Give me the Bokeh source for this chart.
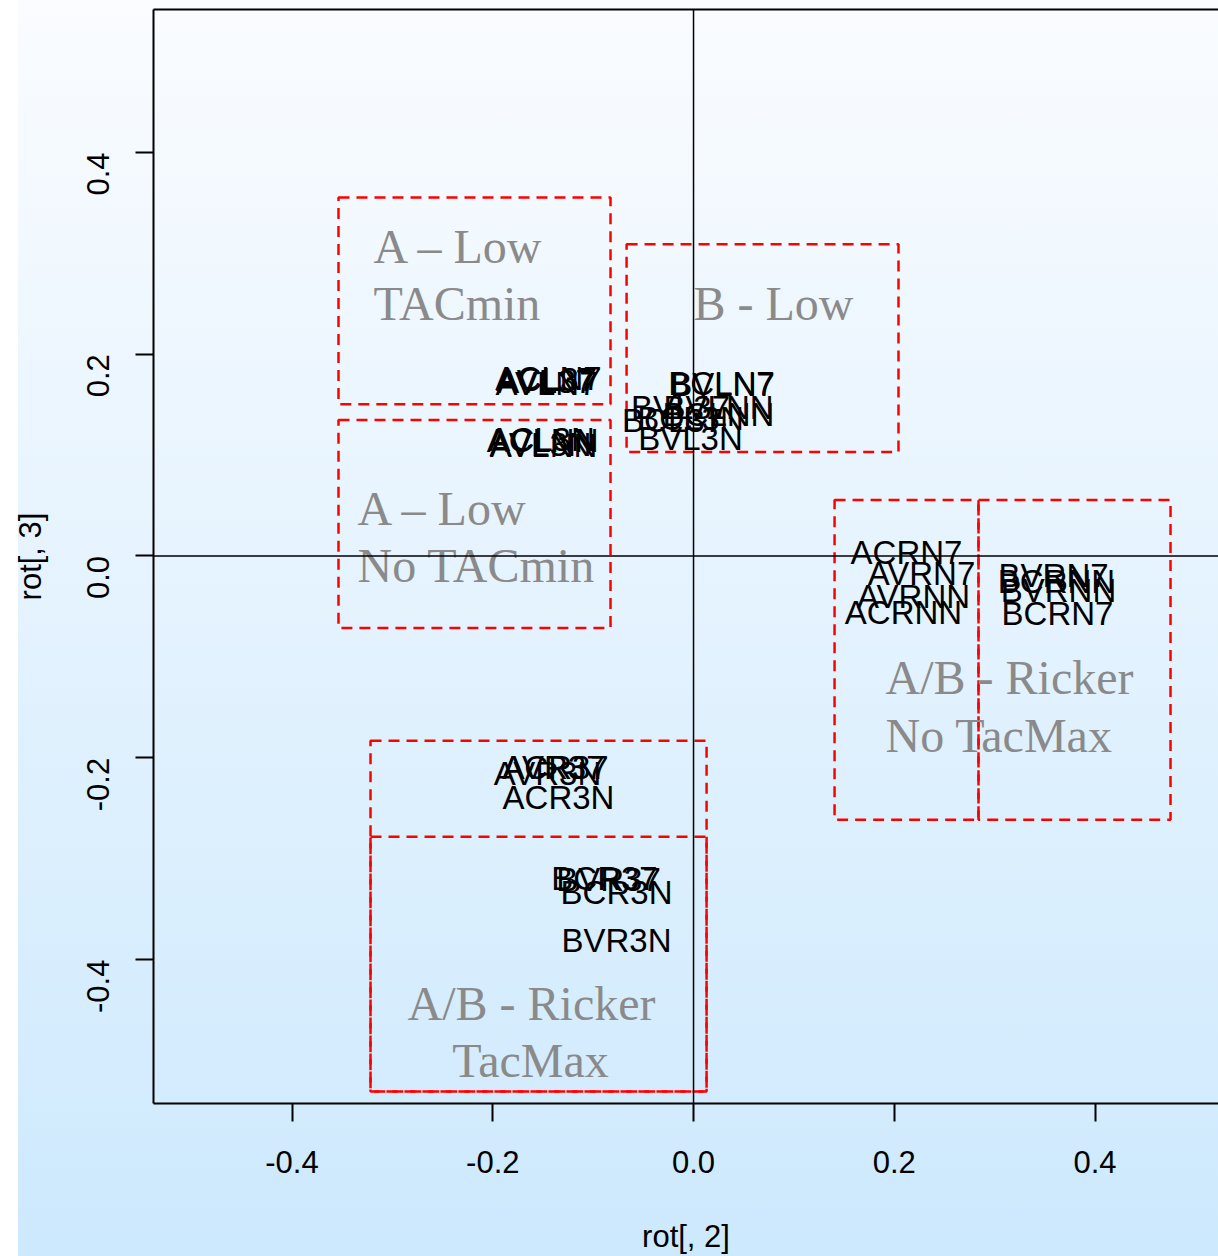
import math
from bokeh.plotting import figure
from bokeh.models import (Span, FixedTicker, LinearAxis, Range1d, ColumnDataSource,
                          PrintfTickFormatter)
from bokeh.core.properties import value
from bokeh.embed import file_html
from bokeh.resources import INLINE

# Scenario labels and their loadings on the 2nd and 3rd rotated components
labels = ["ACL37", "AVL37", "ACLN7", "AVLN7",
          "ACL3N", "ACLNN", "AVL3N", "AVLNN",
          "BCLN7", "BVLN7", "BVL37", "BVLNN", "BCL37", "BCLNN", "BCL3N", "BVL3N",
          "ACRN7", "AVRN7", "AVRNN", "ACRNN",
          "BVRN7", "BCRNN", "BVRNN", "BCRN7",
          "ACR37", "AVR37", "AVR3N", "ACR3N",
          "BCR37", "BVR37", "BCR3N", "BVR3N"]
rot2 = [-0.1465, -0.1474, -0.1445, -0.1465,
        -0.1514, -0.1504, -0.1524, -0.1494,
        0.0279, 0.0289, -0.0130, 0.0249, -0.0209, 0.0249, -0.0030, -0.0030,
        0.2122, 0.2271, 0.2192, 0.2092,
        0.3587, 0.3616, 0.3636, 0.3626,
        -0.1375, -0.1395, -0.1455, -0.1345,
        -0.0887, -0.0847, -0.0767, -0.0767]
rot3 = [0.1752, 0.1733, 0.1762, 0.1713,
        0.1158, 0.1149, 0.1109, 0.1099,
        0.1713, 0.1703, 0.1475, 0.1475, 0.1347, 0.1406, 0.1366, 0.1168,
        0.0030, -0.0178, -0.0406, -0.0564,
        -0.0198, -0.0257, -0.0337, -0.0574,
        -0.2099, -0.2099, -0.2158, -0.2396,
        -0.3198, -0.3208, -0.3337, -0.3812]

# Group outlines (data units)
box_left = [-0.3537, -0.0667, -0.3537, 0.1405, 0.2839, -0.3218, -0.3218]
box_right = [-0.0827, 0.2042, -0.0827, 0.2839, 0.4752, 0.0130, 0.0130]
box_bottom = [0.1505, 0.1030, -0.0713, -0.2614, -0.2614, -0.5307, -0.5307]
box_top = [0.3554, 0.3089, 0.1347, 0.0554, 0.0554, -0.1832, -0.2782]

# Group notes, one entry per text line
note_text = ["A \u2013 Low", "TACmin", "B - Low", "A \u2013 Low", "No TACmin",
             "A/B - Ricker", "No TacMax", "A/B - Ricker", "TacMax"]
note_x = [-0.3188, -0.3188, 0.0, -0.3347, -0.3347, 0.1913, 0.1913, -0.2849, -0.1624]
note_y = [0.3069, 0.2505, 0.2505, 0.0475, -0.0099, -0.1208, -0.1783, -0.4436, -0.5000]
note_align = ["left", "left", "left", "left", "left", "left", "left", "left", "center"]

x_lim = (-0.538, 0.523)
y_lim = (-0.5426, 0.5416)
ticks = [-0.4, -0.2, 0.0, 0.2, 0.4]

p = figure(width=1218, height=1256, output_backend="svg", toolbar_location=None,
           x_range=Range1d(*x_lim), y_range=Range1d(*y_lim),
           min_border_left=153, min_border_right=0, min_border_top=9,
           min_border_bottom=152, x_axis_location=None, y_axis_location=None)
p.grid.visible = False
p.outline_line_color = None
p.background_fill_alpha = 0
p.border_fill_alpha = 0
p.styles = {"background": "linear-gradient(to right, #ffffff 18px, rgba(255,255,255,0) 18px), "
                          "linear-gradient(to bottom, #fafcff 0%, #cde9fd 100%)"}

FONT = value("Liberation Sans")


def style_axis(ax):
    ax.axis_line_width = 2
    ax.axis_line_color = "black"
    ax.major_tick_line_width = 2
    ax.major_tick_out = 18
    ax.major_tick_in = 0
    ax.minor_tick_line_color = None
    ax.major_label_text_font = "Liberation Sans"
    ax.major_label_text_font_size = "31px"
    ax.major_label_text_color = "black"
    ax.axis_label_text_font = "Liberation Sans"
    ax.axis_label_text_font_size = "31px"
    ax.axis_label_text_font_style = "normal"
    ax.axis_label_text_color = "black"


xaxis = LinearAxis(ticker=FixedTicker(ticks=ticks), formatter=PrintfTickFormatter(format="%.1f"),
                   axis_label="rot[, 2]")
style_axis(xaxis)
xaxis.major_label_standoff = 29
xaxis.axis_label_standoff = 43
p.add_layout(xaxis, "below")

yaxis = LinearAxis(ticker=FixedTicker(ticks=ticks), formatter=PrintfTickFormatter(format="%.1f"),
                   axis_label="rot[, 3]")
style_axis(yaxis)
yaxis.major_label_orientation = math.pi / 2
yaxis.major_label_standoff = 37
yaxis.axis_label_standoff = 26
p.add_layout(yaxis, "left")

top = LinearAxis(ticker=FixedTicker(ticks=[]))
top.axis_line_width = 2
top.major_tick_line_color = None
top.minor_tick_line_color = None
top.major_label_text_font_size = "0px"
p.add_layout(top, "above")

# Zero reference lines
p.add_layout(Span(location=0, dimension="width", line_color="black", line_width=1.5))
p.add_layout(Span(location=0, dimension="height", line_color="black", line_width=1.5))

p.quad(left=box_left, right=box_right, bottom=box_bottom, top=box_top,
       fill_color=None, line_color="#ff0000", line_width=2.5, line_dash="11 7")

notes = ColumnDataSource(dict(x=note_x, y=note_y, text=note_text, align=note_align))
p.text(x="x", y="y", text="text", source=notes, text_align="align",
       text_baseline="alphabetic", text_font=value("Liberation Serif"),
       text_font_size="48px", text_color="#8a8a8a")

pts = ColumnDataSource(dict(x=rot2, y=rot3, text=labels))
p.text(x="x", y="y", text="text", source=pts, text_align="center",
       text_baseline="middle", text_font=FONT, text_font_size="33px", text_color="black")

open("out.html", "w").write(file_html(p, INLINE))
